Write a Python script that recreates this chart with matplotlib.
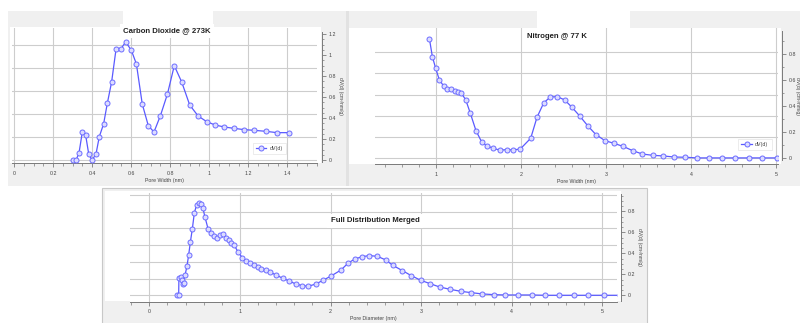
import numpy as np
import matplotlib.pyplot as plt
from matplotlib.patches import Rectangle
from matplotlib.ticker import MultipleLocator, FixedLocator, FuncFormatter

# CO2 isotherm at 273 K: pore width (nm) vs dV(d)
co2_width = [0.300, 0.318, 0.333, 0.350, 0.367, 0.383, 0.400, 0.420, 0.437, 0.459,
             0.478, 0.500, 0.523, 0.548, 0.572, 0.601, 0.627, 0.657, 0.688, 0.717,
             0.750, 0.786, 0.821, 0.859, 0.900, 0.943, 0.987, 1.030, 1.077, 1.127,
             1.178, 1.230, 1.289, 1.347, 1.410]
co2_dv = [0.0, 0.0, 0.067, 0.267, 0.238, 0.054, 0.0, 0.057, 0.223, 0.344,
          0.541, 0.744, 1.062, 1.062, 1.126, 1.047, 0.916, 0.534, 0.327, 0.267,
          0.423, 0.630, 0.900, 0.744, 0.525, 0.420, 0.366, 0.334, 0.315, 0.302,
          0.290, 0.283, 0.274, 0.261, 0.261]

# N2 isotherm at 77 K
n2_width = [0.922, 0.957, 0.996, 1.039, 1.090, 1.133, 1.176, 1.220, 1.259, 1.298,
            1.349, 1.404, 1.470, 1.537, 1.600, 1.675, 1.753, 1.831, 1.910, 1.992,
            2.114, 2.188, 2.267, 2.345, 2.427, 2.514, 2.600, 2.694, 2.784, 2.882,
            2.988, 3.094, 3.200, 3.314, 3.427, 3.549, 3.675, 3.800, 3.933, 4.075,
            4.216, 4.369, 4.522, 4.678, 4.839, 5.008]
n2_dv = [0.920, 0.782, 0.692, 0.603, 0.556, 0.533, 0.531, 0.521, 0.510, 0.500,
         0.451, 0.346, 0.213, 0.126, 0.095, 0.077, 0.062, 0.067, 0.064, 0.072,
         0.154, 0.315, 0.426, 0.472, 0.474, 0.449, 0.392, 0.323, 0.251, 0.182,
         0.136, 0.115, 0.092, 0.059, 0.033, 0.023, 0.018, 0.010, 0.008, 0.003,
         0.003, 0.003, 0.003, 0.003, 0.003, 0.003]

# merged distribution (pore diameter)
merged_diam = [0.302, 0.324, 0.327, 0.349, 0.364, 0.370, 0.380, 0.394, 0.416, 0.434,
               0.453, 0.475, 0.497, 0.522, 0.548, 0.570, 0.592, 0.614, 0.648, 0.681,
               0.714, 0.747, 0.784, 0.817, 0.846, 0.876, 0.905, 0.938, 0.979, 1.026,
               1.067, 1.111, 1.155, 1.196, 1.233, 1.288, 1.336, 1.398, 1.472, 1.542,
               1.615, 1.689, 1.755, 1.840, 1.917, 2.001, 2.116, 2.196, 2.270, 2.351,
               2.428, 2.517, 2.609, 2.686, 2.793, 2.892, 2.995, 3.098, 3.205, 3.319,
               3.437, 3.554, 3.676, 3.804, 3.930, 4.073, 4.220, 4.371, 4.525, 4.684,
               4.846, 5.015, 5.200]
merged_dv = [0.0, 0.0, 0.168, 0.175, 0.146, 0.111, 0.121, 0.190, 0.279, 0.381,
             0.505, 0.632, 0.784, 0.860, 0.876, 0.870, 0.829, 0.746, 0.635, 0.597,
             0.565, 0.549, 0.571, 0.587, 0.546, 0.524, 0.502, 0.476, 0.413, 0.359,
             0.327, 0.305, 0.286, 0.270, 0.254, 0.238, 0.219, 0.194, 0.162, 0.137,
             0.108, 0.092, 0.086, 0.108, 0.143, 0.181, 0.241, 0.308, 0.346, 0.368,
             0.378, 0.371, 0.337, 0.286, 0.235, 0.187, 0.143, 0.111, 0.079, 0.057,
             0.038, 0.025, 0.013, 0.006, 0.003, 0.003, 0.003, 0.0, 0.0, 0.0,
             0.0, 0.0, 0.0]

W, H = 800, 323
LINE = "#5a5aff"
FACE = "#dcdcff"
EDGE = "#6c6cff"
GRID = "#cdcdcd"
AXIS = "#7a7a7a"
TEXT = "#444444"
PANEL = "#f0f0f0"

plt.rcParams["font.family"] = ["Liberation Sans", "DejaVu Sans"]
fmt = FuncFormatter(lambda v, _: f"{v:g}")

fig = plt.figure(figsize=(W / 100, H / 100), dpi=100)
fig.patch.set_facecolor("white")


def frac(x0, y0, x1, y1):
    # pixel box (origin top-left) -> figure fraction rect
    return (x0 / W, 1 - y1 / H, (x1 - x0) / W, (y1 - y0) / H)


def block(x0, y0, x1, y1, color, edge="none"):
    l, b, w, h = frac(x0, y0, x1, y1)
    fig.patches.append(Rectangle((l, b), w, h, transform=fig.transFigure,
                                 facecolor=color, edgecolor=edge, lw=0.8, zorder=-1))


def dist_chart(rect, x, y, xlim, ylim, grid_ylim, grid_top, xminor, yminor,
               spine_lo, spine_hi, gap, xlabel, legend_at=None, ylabel_pad=5):
    gx = fig.add_axes(frac(*rect))
    gx.set_facecolor("white")
    gx.set_xlim(xlim)
    gx.set_ylim(grid_ylim)
    gx.xaxis.set_major_locator(MultipleLocator(1 if xlim[1] > 3 else 0.2))
    gx.xaxis.set_minor_locator(MultipleLocator(xminor))
    gx.xaxis.set_major_formatter(fmt)
    gx.yaxis.set_major_locator(FixedLocator(np.arange(0, grid_top + 0.01, 0.2)))
    gx.grid(True, color=GRID, lw=0.8)
    gx.tick_params(axis="x", which="major", length=3, width=0.6, color=AXIS,
                   labelsize=3.8, labelcolor=TEXT, pad=2.5)
    gx.tick_params(axis="x", which="minor", length=1.8, width=0.5, color=AXIS)
    for s in ("left", "top", "right"):
        gx.spines[s].set_visible(False)
    gx.spines["bottom"].set_color(AXIS)
    gx.spines["bottom"].set_linewidth(0.7)
    gx.set_xlabel(xlabel, fontsize=3.8, color=TEXT, labelpad=1.5)

    ax = gx.twinx()
    # twinx turns the left ticks back on; the grid axis only carries gridlines
    gx.tick_params(axis="y", which="both", left=False, right=False,
                   labelleft=False, labelright=False)
    ax.set_ylim(ylim)
    ax.plot(x, y, color=LINE, lw=0.9, marker="o", ms=3.6, mfc=FACE, mec=EDGE,
            mew=0.7, label="dV(d)")
    for s in ("left", "top", "bottom"):
        ax.spines[s].set_visible(False)
    ax.spines["right"].set_color(AXIS)
    ax.spines["right"].set_linewidth(0.7)
    ax.spines["right"].set_position(("outward", gap * 0.72))
    ax.spines["right"].set_bounds(spine_lo, spine_hi)
    ax.yaxis.set_major_locator(FixedLocator(np.arange(0, spine_hi + 1e-9, 0.2)))
    ax.yaxis.set_minor_locator(FixedLocator(np.arange(0, spine_hi + 1e-9, yminor)))
    ax.yaxis.set_major_formatter(fmt)
    ax.tick_params(axis="y", which="major", length=3, width=0.6, color=AXIS,
                   labelsize=3.8, labelcolor=TEXT, pad=2)
    ax.tick_params(axis="y", which="minor", length=1.6, width=0.5, color=AXIS)
    ax.set_ylabel("dV(d) (cm³/nm/g)", fontsize=3.6, color=TEXT, rotation=270,
                  labelpad=ylabel_pad)
    if legend_at is not None:
        leg = ax.legend(loc="lower left", bbox_to_anchor=legend_at, fontsize=3.8,
                        frameon=True, fancybox=False, handlelength=2.0,
                        borderpad=0.6, handletextpad=0.6)
        leg.get_frame().set_edgecolor("#dddddd")
        leg.get_frame().set_linewidth(0.5)
        for t in leg.get_texts():
            t.set_color(TEXT)
    return ax


# screenshot panels
block(8, 11, 346, 186, PANEL)
block(346, 11, 349, 186, "#e2e2e2")
block(349, 11, 800, 186, PANEL)
block(123, 11, 213, 27, "white")
block(537, 11, 630, 28, "white")
block(10, 27, 321, 163, "white")
block(349, 28, 781, 164, "white")
block(102, 188, 647, 324, PANEL, edge="#c8c8c8")
block(105, 191, 621, 301, "white")

dist_chart((12, 28, 317, 163), co2_width, co2_dv,
           xlim=(-0.0102, 1.552), ylim=(-0.0286, 1.2595),
           grid_ylim=(-0.0262, 1.1528), grid_top=1.0, xminor=0.05, yminor=0.05,
           spine_lo=-0.016, spine_hi=1.224, gap=5, xlabel="Pore Width (nm)",
           legend_at=(0.78, 0.044))

dist_chart((375, 28, 778, 164), n2_width, n2_dv,
           xlim=(0.282, 5.024), ylim=(-0.0438, 1.0023),
           grid_ylim=(-0.0536, 1.2258), grid_top=1.0, xminor=0.2, yminor=0.1,
           spine_lo=-0.013, spine_hi=0.979, gap=4, xlabel="Pore Width (nm)",
           legend_at=(0.895, 0.08), ylabel_pad=2.5)

dist_chart((130, 193, 617, 301.7), merged_diam, merged_dv,
           xlim=(-0.213, 5.162), ylim=(-0.061, 0.974),
           grid_ylim=(-0.0766, 1.225), grid_top=1.2, xminor=0.2, yminor=0.05,
           spine_lo=-0.054, spine_hi=0.965, gap=4, xlabel="Pore Diameter (nm)")

titles = [("Carbon Dioxide @ 273K", 167, 31), ("Nitrogen @ 77 K", 557, 36),
          ("Full Distribution Merged", 375, 221)]
for txt, tx, ty in titles:
    fig.text(tx / W, 1 - ty / H, txt, ha="center", va="center", fontsize=5.6,
             fontweight="bold", color="#222222",
             bbox=dict(facecolor="white", edgecolor="none", pad=2.5))

fig.savefig("out.png", dpi=100)
